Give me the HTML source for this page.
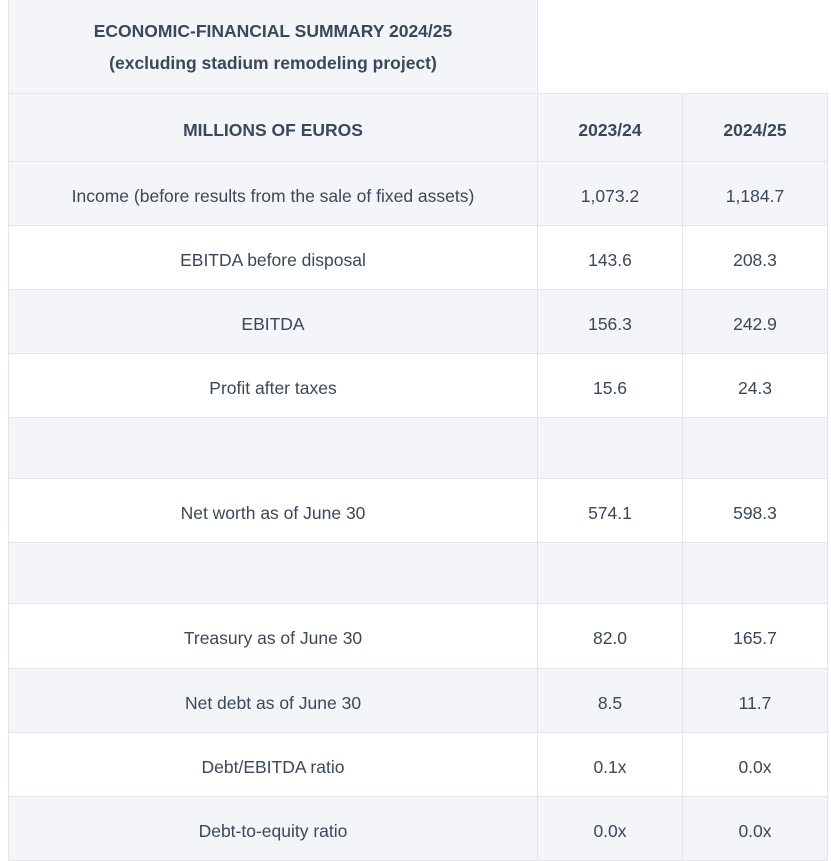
<!DOCTYPE html>
<html><head><meta charset="utf-8"><style>
body{margin:0;width:831px;height:861px;background:#fff;font-family:"Liberation Sans",sans-serif;color:#3b475a;overflow:hidden}
.c{position:absolute;box-sizing:border-box;display:flex;align-items:center;justify-content:center;text-align:center;font-size:17.5px;border-top:1px solid #e2e5ea;border-left:1px solid #e2e5ea;padding-top:5px}
.g{background:#f3f5f8}.b{font-weight:bold}
</style></head><body>
<div id="t"></div>
<script>
const rows=[
 ["Income (before results from the sale of fixed assets)","1,073.2","1,184.7",161,64,1],
 ["EBITDA before disposal","143.6","208.3",225,64,0],
 ["EBITDA","156.3","242.9",289,64,1],
 ["Profit after taxes","15.6","24.3",353,64,0],
 ["","","",417,61,1],
 ["Net worth as of June 30","574.1","598.3",478,64,0],
 ["","","",542,61,1],
 ["Treasury as of June 30","82.0","165.7",603,65,0],
 ["Net debt as of June 30","8.5","11.7",668,64,1],
 ["Debt/EBITDA ratio","0.1x","0.0x",732,64,0],
 ["Debt-to-equity ratio","0.0x","0.0x",796,64,1]];
const t=document.getElementById('t');
function cell(x,y,w,h,html,cls,name){const d=document.createElement('div');d.className='c '+cls;
d.style.cssText=`left:${x}px;top:${y}px;width:${w}px;height:${h}px`;d.innerHTML=html;


t.appendChild(d);return d;}
const tt=cell(8,0,530,93,'<div style="line-height:32px">ECONOMIC-FINANCIAL SUMMARY 2024/25<br>(excluding stadium remodeling project)</div>','g b','table-title');
tt.style.borderTop='none';tt.style.paddingTop='0';tt.style.borderRight='1px solid #e2e5ea';
cell(8,93,529,68,'MILLIONS OF EUROS','g b','header-label');
cell(537,93,145,68,'2023/24','g b','header-2023-24');
cell(682,93,146,68,'2024/25','g b','header-2024-25').style.borderRight='1px solid #e2e5ea';
rows.forEach((r,i)=>{const cl=r[5]?'g':'';const last=i===rows.length-1;
const a=cell(8,r[3],529,r[4]+(last?1:0),r[0],cl,'row-label');
const b=cell(537,r[3],145,r[4]+(last?1:0),r[1],cl,'value-2023-24');
const c=cell(682,r[3],146,r[4]+(last?1:0),r[2],cl,'value-2024-25');
c.style.borderRight='1px solid #e2e5ea';
if(last){[a,b,c].forEach(e=>e.style.borderBottom='1px solid #e2e5ea');}});
</script>
</body></html>
